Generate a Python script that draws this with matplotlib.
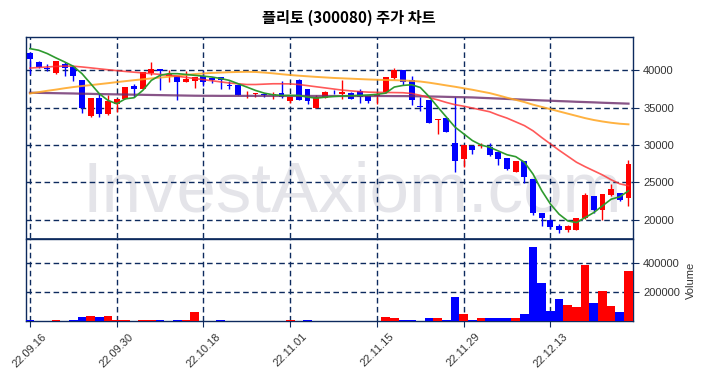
import numpy as np
import matplotlib
matplotlib.use('Agg')
import matplotlib.pyplot as plt

title = '플리토 (300080) 주가 차트'
tick_labels = ['22.09.16', '22.09.30', '22.10.18', '22.11.01', '22.11.15', '22.11.29', '22.12.13']

open_ = [42370, 41120, 40300, 39640, 40800, 40450, 38660, 33910, 36240, 34090,
         35430, 36100, 37900, 37540, 39690, 40180, 39200, 39190, 38390, 38610,
         39190, 38970, 39100, 38070, 37980, 37040, 36820, 36780, 36730, 36950,
         35830, 38650, 37450, 34980, 36330, 37130, 36780, 37000, 37180, 36510,
         36510, 37040, 39010, 40000, 38750, 35160, 35970, 33400, 33600, 30230,
         28130, 29920, 29870, 29700, 29030, 28220, 26430, 27810, 25440, 20960,
         19980, 19100, 18590, 18590, 20200, 23200, 21270, 23340, 23520, 22940]
high = [42450, 41200, 40900, 41300, 41120, 40500, 38700, 36300, 36900, 36640,
        36200, 37720, 38200, 39800, 41080, 40200, 40090, 39200, 39870, 39100,
        39870, 39100, 39100, 38520, 38000, 37220, 37000, 36950, 37090, 38520,
        36420, 38790, 37500, 36730, 37200, 37400, 38650, 37040, 37500, 36510,
        37090, 39150, 40300, 40000, 39190, 36420, 35970, 33500, 33600, 36420,
        30010, 29920, 30220, 30220, 29030, 28220, 27900, 27810, 25440, 20960,
        20100, 19400, 19330, 20200, 23520, 23200, 23400, 24770, 23600, 27960]
low = [39550, 40300, 39870, 39500, 39190, 38520, 34270, 33800, 33800, 34000,
       34400, 36100, 36420, 37540, 39330, 37400, 38430, 36060, 38390, 37670,
       37850, 38340, 37450, 37540, 36700, 36330, 36420, 36420, 36200, 36330,
       35560, 35970, 35520, 34980, 36300, 36860, 36200, 36150, 35600, 35650,
       35430, 36950, 38880, 37990, 35300, 34620, 32920, 31490, 31710, 26330,
       27010, 28800, 29560, 28490, 27370, 26700, 26430, 24900, 20600, 19180,
       18800, 18270, 18400, 18590, 20100, 20870, 19900, 23200, 22500, 21860]
close = [41570, 40450, 40150, 41250, 40360, 39190, 34890, 36240, 34090, 35830,
         36150, 37720, 37540, 39780, 40180, 39870, 39460, 38390, 38880, 39100,
         38430, 38660, 38660, 37940, 36730, 37130, 36910, 36690, 36860, 36420,
         36420, 36060, 35830, 36420, 37090, 37040, 37090, 36200, 36420, 35830,
         36860, 39150, 40000, 38430, 35970, 35030, 32920, 33500, 31710, 27810,
         30010, 29340, 30000, 28710, 28130, 26790, 27810, 25750, 20870, 20200,
         19030, 18590, 19180, 20200, 23250, 21270, 23380, 24100, 22670, 27510]
volume = [12000, 6000, 6000, 14000, 6000, 14000, 28000, 35000, 28000, 35000,
          14000, 14000, 6000, 14000, 14000, 14000, 7000, 14000, 14000, 62000,
          6000, 6000, 14000, 6000, 6000, 6000, 6000, 6000, 6000, 6000,
          14000, 6000, 14000, 6000, 6000, 6000, 6000, 6000, 6000, 6000,
          6000, 28000, 21000, 14000, 14000, 6000, 21000, 21000, 14000, 165000,
          48000, 14000, 21000, 21000, 21000, 21000, 21000, 48000, 505000, 262000,
          75000, 151000, 110000, 96000, 385000, 124000, 206000, 103000, 68000, 345000]

ma5 = [42900, 42690, 42240, 41660, 41120, 40540, 39550, 38210, 36860, 35970,
       35520, 36190, 36330, 37310, 38660, 39330, 39550, 39550, 39450, 39330,
       39220, 39100, 38900, 38650, 38200, 37760, 37310, 36950, 36730, 36640,
       36640, 36640, 36420, 36280, 36400, 36500, 36560, 36600, 36640, 36700,
       36780, 36950, 37760, 37980, 38070, 37700, 36500, 35100, 33750, 32400,
       31500, 30600, 30000, 29700, 29200, 28700, 28440, 27700, 26100, 23900,
       22100, 20740, 19840, 19620, 20290, 20960, 21860, 22750, 23070, 23870]
ma20 = [40300, 40380, 40450, 40520, 40570, 40550, 40450, 40330, 40200, 40080,
        39960, 39850, 39750, 39650, 39550, 39450, 39350, 39200, 39050, 38900,
        38750, 38600, 38450, 38300, 38200, 38100, 38100, 38150, 38200, 38200,
        38180, 38100, 37950, 37800, 37650, 37500, 37350, 37250, 37150, 37080,
        37050, 37030, 37020, 37000, 36900, 36650, 36350, 36050, 35700, 35400,
        35200, 34950, 34700, 34450, 34000, 33600, 33100, 32600, 31900, 31000,
        30150, 29300, 28500, 27700, 27100, 26550, 26000, 25350, 24800, 24550]
ma60 = [36900, 37080, 37260, 37420, 37600, 37760, 37900, 38020, 38150, 38280,
        38420, 38550, 38680, 38800, 38920, 39030, 39140, 39250, 39380, 39500,
        39580, 39650, 39700, 39750, 39780, 39800, 39780, 39700, 39600, 39480,
        39370, 39280, 39200, 39120, 39050, 38980, 38930, 38880, 38830, 38780,
        38740, 38700, 38680, 38640, 38580, 38500, 38350, 38170, 37980, 37800,
        37600, 37400, 37170, 36950, 36650, 36330, 36050, 35750, 35400, 35100,
        34800, 34500, 34200, 33900, 33600, 33350, 33150, 32980, 32850, 32770]
ma120 = [37000, 36980, 36960, 36940, 36920, 36900, 36870, 36850, 36820, 36800,
         36780, 36760, 36740, 36720, 36700, 36680, 36660, 36640, 36620, 36600,
         36590, 36590, 36580, 36580, 36580, 36580, 36580, 36580, 36570, 36570,
         36570, 36570, 36570, 36570, 36570, 36560, 36560, 36560, 36560, 36560,
         36560, 36560, 36550, 36550, 36540, 36520, 36500, 36480, 36450, 36420,
         36400, 36370, 36320, 36270, 36220, 36170, 36120, 36070, 36020, 35970,
         35930, 35880, 35840, 35790, 35750, 35710, 35660, 35620, 35580, 35540]

navy = '#0d2a5e'
plt.rcParams['font.family'] = ['Liberation Sans', 'DejaVu Sans']

fig = plt.figure(figsize=(7.04, 3.78), dpi=100)
ax = fig.add_axes([0.0364, 0.3693, 0.8625, 0.5336])
axv = fig.add_axes([0.0364, 0.150, 0.8625, 0.217], sharex=ax)

x = np.arange(len(close))
o = np.array(open_)
c = np.array(close)
up = c >= o
colors = np.where(up, '#ff0000', '#0000ff')

# candles
ax.vlines(x, low, high, colors=colors, linewidth=1.0, zorder=3)
ax.bar(x, np.abs(c - o), bottom=np.minimum(o, c), width=0.68, color=colors, zorder=4)

# moving averages
ax.plot(x, ma120, color='#6b2a6b', alpha=0.8, linewidth=1.6, zorder=5)
ax.plot(x, ma60, color='#ffa520', alpha=0.85, linewidth=1.4, zorder=5)
ax.plot(x, ma20, color='#ff3030', alpha=0.8, linewidth=1.2, zorder=5)
ax.plot(x, ma5, color='#2e9a2e', linewidth=1.2, zorder=6)

# volume
axv.bar(x, volume, width=1.0, color=colors, zorder=3)

ticks = np.arange(0, len(close), 10)
for a in (ax, axv):
    a.set_xlim(-0.5, len(close) - 0.5)
    a.set_axisbelow('line')
    a.grid(True, color=navy, linestyle='--', linewidth=1.0, dashes=(4, 2.5))
    for s in a.spines.values():
        s.set_color(navy)
        s.set_linewidth(1.0)
    a.yaxis.tick_right()
    a.tick_params(axis='y', labelsize=8, colors='#333333', length=4)
    a.tick_params(axis='y', color=navy)
    a.set_xticks(ticks)

ax.spines['bottom'].set_linewidth(0.6)
ax.set_ylim(17500, 44500)
ax.set_yticks([20000, 25000, 30000, 35000, 40000])
ax.tick_params(axis='x', bottom=False, labelbottom=False)

axv.set_ylim(1800, 558000)
axv.set_yticks([200000, 400000])
axv.set_xticklabels(tick_labels, rotation=45, ha='center', fontsize=8, color='#333333')
axv.tick_params(axis='x', color=navy, length=4)
axv.yaxis.set_label_position('right')
axv.set_ylabel('Volume', fontsize=8, color='#333333')

# watermark
ax.text(0.5, 0.44, 'InvestAxiom.com', transform=fig.transFigure, fontsize=51,
        color='#e4e4e9', ha='center', va='baseline', zorder=0.2)

fig.text(0.495, 0.952, title, ha='center', va='center', fontsize=11,
         fontweight='bold', family=['Noto Sans CJK KR', 'DejaVu Sans'])

fig.savefig('out.png', dpi=100)
